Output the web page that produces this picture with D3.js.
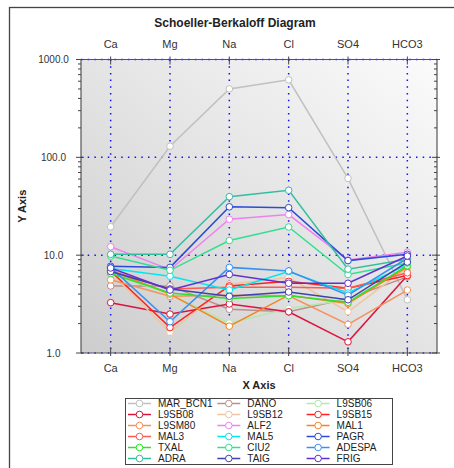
<!DOCTYPE html>
<html><head><meta charset="utf-8">
<script src="https://cdn.jsdelivr.net/npm/d3@7"></script>
<style>body{margin:0;background:#fff;overflow:hidden} text{font-family:Arial,"Liberation Sans",sans-serif;}</style>
</head><body><svg id="c" width="454" height="468"></svg>
<script>
const categories = ["Ca","Mg","Na","Cl","SO4","HCO3"];
const yTicks = [1,10,100,1000];
const yTickLabels = ["1.0","10.0","100.0","1000.0"];
const seriesNames = ["MAR_BCN1","DANO","L9SB06","L9SB08","L9SB12","L9SB15","L9SM80","ALF2","MAL1","MAL3","MAL5","PAGR","TXAL","CIU2","ADESPA","ADRA","TAIG","FRIG"];
const seriesColors = ["#c0c0c0","#bc8f8f","#b4e8ac","#dc143c","#eec6a0","#ff2020","#f4925e","#ee82ee","#f5841f","#ff5a50","#00e8ee","#2c4ad8","#30e030","#30e090","#3890f0","#30c0a0","#4040b0","#6030d0"];
const MAR_BCN1 = [19.5,130,500,620,61,3.5];
const DANO     = [4.85,4.85,2.8,2.64,3.6,6.0];
const L9SB06   = [6.4,4.0,2.02,2.85,3.5,7.2];
const L9SB08   = [3.27,2.5,3.17,2.64,1.30,6.2];
const L9SB12   = [6.6,1.63,5.05,5.9,2.64,7.5];
const L9SB15   = [6.9,1.82,4.85,5.4,4.6,6.2];
const L9SM80   = [5.6,3.8,3.9,3.85,1.96,4.4];
const ALF2     = [12.2,7.1,23.3,26,8.9,10.7];
const MAL1     = [7.0,4.0,1.88,3.9,3.2,7.6];
const MAL3     = [6.9,4.5,4.7,4.7,4.6,6.6];
const MAL5     = [7.3,6.1,4.4,6.8,4.1,8.0];
const PAGR     = [7.7,7.5,31.2,30.6,8.8,10.2];
const TXAL     = [6.5,4.1,3.6,3.85,3.3,7.8];
const CIU2     = [9.8,7.0,14.1,19.4,6.35,8.3];
const ADESPA   = [7.5,2.09,7.5,6.9,3.9,9.3];
const ADRA     = [10.2,10.2,39.6,46,7.2,9.1];
const TAIG     = [6.8,4.5,3.8,4.2,3.5,8.5];
const FRIG     = [7.4,4.4,6.35,5.16,5.16,9.8];
const seriesValues = [MAR_BCN1,DANO,L9SB06,L9SB08,L9SB12,L9SB15,L9SM80,ALF2,MAL1,MAL3,MAL5,PAGR,TXAL,CIU2,ADESPA,ADRA,TAIG,FRIG];

const svg = d3.select("#c");
const L=81, R=437, T=59.5, B=353;
const x = d3.scalePoint().domain(categories).range([L,R]).padding(0.5);
const y = d3.scaleLog().domain([1,1000]).range([B,T]);

// outer frame
svg.append("rect").attr("x",9.5).attr("y",7.5).attr("width",470).attr("height",480)
  .attr("fill","#fff").attr("stroke","#444").attr("stroke-width",1.3);

// gradient
const defs = svg.append("defs");
const g = defs.append("linearGradient").attr("id","bg").attr("x1",0).attr("y1",1).attr("x2",1).attr("y2",0);
g.append("stop").attr("offset","0%").attr("stop-color","#cdcdcd");
g.append("stop").attr("offset","100%").attr("stop-color","#fbfbfb");
svg.append("rect").attr("x",L).attr("y",T).attr("width",R-L).attr("height",B-T).attr("fill","url(#bg)");

// title
svg.append("text").attr("x",235).attr("y",27).attr("text-anchor","middle")
  .attr("font-size",12).attr("font-weight","bold").attr("fill","#222").text("Schoeller-Berkaloff Diagram");

// grid
const grid = svg.append("g").attr("stroke","#1010ff").attr("stroke-width",1.5).attr("stroke-dasharray","1.5,5.2");
categories.forEach(c=>grid.append("line").attr("x1",x(c)).attr("x2",x(c)).attr("y1",T).attr("y2",B));
yTicks.forEach(v=>grid.append("line").attr("x1",L).attr("x2",R).attr("y1",y(v)).attr("y2",y(v)));

// axes lines
const ax = svg.append("g").attr("stroke","#555").attr("stroke-width",1.2).attr("fill","none");
ax.append("line").attr("x1",L).attr("x2",L).attr("y1",T).attr("y2",B);
ax.append("line").attr("x1",R).attr("x2",R).attr("y1",T).attr("y2",B);
ax.append("line").attr("x1",L).attr("x2",R).attr("y1",T).attr("y2",T);
ax.append("line").attr("x1",L).attr("x2",R).attr("y1",B).attr("y2",B);

// series
const line = d3.line().x((d,i)=>x(categories[i])).y(d=>y(d));
seriesValues.forEach((vals,si)=>{
  const gs = svg.append("g");
  gs.append("path").attr("d",line(vals)).attr("fill","none").attr("stroke",seriesColors[si]).attr("stroke-width",1.5);
  gs.selectAll("circle").data(vals).join("circle")
    .attr("cx",(d,i)=>x(categories[i])).attr("cy",d=>y(d)).attr("r",3.3)
    .attr("fill","#fff").attr("stroke",seriesColors[si]).attr("stroke-width",1);
});

// ticks
const tk = svg.append("g").attr("stroke","#444").attr("stroke-width",1);
const minor = [];
for (let d=1; d<1000; d*=10) for (let k=2;k<=9;k++) minor.push(d*k);
minor.forEach(v=>{
  tk.append("line").attr("x1",L-3).attr("x2",L).attr("y1",y(v)).attr("y2",y(v));
  tk.append("line").attr("x1",R-3).attr("x2",R).attr("y1",y(v)).attr("y2",y(v));
});
yTicks.forEach(v=>{
  tk.append("line").attr("x1",L-5).attr("x2",L+3).attr("y1",y(v)).attr("y2",y(v));
  tk.append("line").attr("x1",R-5).attr("x2",R+3).attr("y1",y(v)).attr("y2",y(v));
});
categories.forEach(c=>{
  tk.append("line").attr("x1",x(c)).attr("x2",x(c)).attr("y1",T-3).attr("y2",T+5);
  tk.append("line").attr("x1",x(c)).attr("x2",x(c)).attr("y1",B-5).attr("y2",B+3);
});

// labels
yTicks.forEach((v,i)=>svg.append("text").attr("x",53.5).attr("y",y(v)+3.5).attr("text-anchor","middle")
  .attr("font-size",10).attr("fill","#333").text(yTickLabels[i]));
categories.forEach(c=>{
  svg.append("text").attr("x",x(c)).attr("y",48).attr("text-anchor","middle").attr("font-size",11).attr("fill","#333").text(c);
  svg.append("text").attr("x",x(c)).attr("y",372).attr("text-anchor","middle").attr("font-size",11).attr("fill","#333").text(c);
});
svg.append("text").attr("x",(L+R)/2).attr("y",389).attr("text-anchor","middle").attr("font-size",11).attr("font-weight","bold").attr("fill","#222").text("X Axis");
svg.append("text").attr("transform",`translate(26,${(T+B)/2}) rotate(-90)`).attr("text-anchor","middle").attr("font-size",11).attr("font-weight","bold").attr("fill","#222").text("Y Axis");

// legend
svg.append("rect").attr("x",125.5).attr("y",398.5).attr("width",267).attr("height",66).attr("fill","#fff").attr("stroke","#444").attr("stroke-width",1);
seriesNames.forEach((n,i)=>{
  const col=i%3, row=Math.floor(i/3);
  const lx=128+col*89.3, ly=403.5+row*11;
  svg.append("line").attr("x1",lx).attr("x2",lx+23).attr("y1",ly).attr("y2",ly).attr("stroke",seriesColors[i]).attr("stroke-width",1.5);
  svg.append("circle").attr("cx",lx+11.5).attr("cy",ly).attr("r",3.3).attr("fill","#fff").attr("stroke",seriesColors[i]).attr("stroke-width",1);
  svg.append("text").attr("x",lx+30).attr("y",ly+3.7).attr("font-size",10).attr("fill","#222").text(n);
});
</script></body></html>
